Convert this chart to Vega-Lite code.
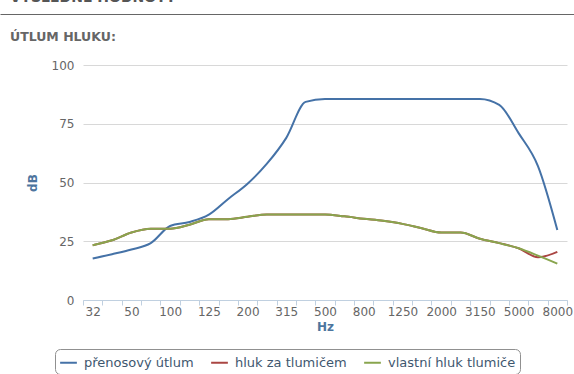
{
  "$schema": "https://vega.github.io/schema/vega-lite/v6.json",
  "width": 484,
  "height": 235,
  "autosize": {"type": "none"},
  "padding": {"left": 83, "top": 65, "right": 7, "bottom": 74},
  "background": "white",
  "title": {
    "text": "VÝSLEDNÉ HODNOTY",
    "subtitle": "ÚTLUM HLUKU:",
    "anchor": "start",
    "frame": "group",
    "dx": -73,
    "offset": -29,
    "font": "DejaVu Sans",
    "fontSize": 14,
    "fontWeight": "bold",
    "color": "#555555",
    "subtitleFont": "DejaVu Sans",
    "subtitleFontSize": 12.5,
    "subtitleFontWeight": "bold",
    "subtitleColor": "#666666",
    "subtitlePadding": 26
  },
  "config": {"view": {"stroke": null}, "font": "DejaVu Sans"},
  "data": {
    "values": [
      {"f": "32", "s": "přenosový útlum", "v": 17.7},
      {"f": "40", "s": "přenosový útlum", "v": 19.5},
      {"f": "50", "s": "přenosový útlum", "v": 21.5},
      {"f": "63", "s": "přenosový útlum", "v": 24.2},
      {"f": "100", "s": "přenosový útlum", "v": 31.5},
      {"f": "110", "s": "přenosový útlum", "v": 33.2},
      {"f": "125", "s": "přenosový útlum", "v": 36.3},
      {"f": "160", "s": "přenosový útlum", "v": 43.0},
      {"f": "200", "s": "přenosový útlum", "v": 49.5},
      {"f": "250", "s": "přenosový útlum", "v": 58.0},
      {"f": "315", "s": "přenosový útlum", "v": 69.0},
      {"f": "400", "s": "přenosový útlum", "v": 84.3},
      {"f": "500", "s": "přenosový útlum", "v": 85.5},
      {"f": "630", "s": "přenosový útlum", "v": 85.5},
      {"f": "800", "s": "přenosový útlum", "v": 85.5},
      {"f": "1000", "s": "přenosový útlum", "v": 85.5},
      {"f": "1250", "s": "přenosový útlum", "v": 85.5},
      {"f": "1600", "s": "přenosový útlum", "v": 85.5},
      {"f": "2000", "s": "přenosový útlum", "v": 85.5},
      {"f": "2500", "s": "přenosový útlum", "v": 85.5},
      {"f": "3150", "s": "přenosový útlum", "v": 85.5},
      {"f": "4000", "s": "přenosový útlum", "v": 83.0},
      {"f": "5000", "s": "přenosový útlum", "v": 71.0},
      {"f": "6300", "s": "přenosový útlum", "v": 57.0},
      {"f": "8000", "s": "přenosový útlum", "v": 29.8},
      {"f": "32", "s": "hluk za tlumičem", "v": 23.3},
      {"f": "40", "s": "hluk za tlumičem", "v": 25.4},
      {"f": "50", "s": "hluk za tlumičem", "v": 28.7},
      {"f": "63", "s": "hluk za tlumičem", "v": 30.3},
      {"f": "100", "s": "hluk za tlumičem", "v": 30.3},
      {"f": "110", "s": "hluk za tlumičem", "v": 32.0},
      {"f": "125", "s": "hluk za tlumičem", "v": 34.4},
      {"f": "160", "s": "hluk za tlumičem", "v": 34.4},
      {"f": "200", "s": "hluk za tlumičem", "v": 35.4},
      {"f": "250", "s": "hluk za tlumičem", "v": 36.4},
      {"f": "315", "s": "hluk za tlumičem", "v": 36.4},
      {"f": "400", "s": "hluk za tlumičem", "v": 36.4},
      {"f": "500", "s": "hluk za tlumičem", "v": 36.4},
      {"f": "630", "s": "hluk za tlumičem", "v": 35.6},
      {"f": "800", "s": "hluk za tlumičem", "v": 34.6},
      {"f": "1000", "s": "hluk za tlumičem", "v": 33.7},
      {"f": "1250", "s": "hluk za tlumičem", "v": 32.4},
      {"f": "1600", "s": "hluk za tlumičem", "v": 30.5},
      {"f": "2000", "s": "hluk za tlumičem", "v": 28.7},
      {"f": "2500", "s": "hluk za tlumičem", "v": 28.7},
      {"f": "3150", "s": "hluk za tlumičem", "v": 26.1},
      {"f": "4000", "s": "hluk za tlumičem", "v": 24.2},
      {"f": "5000", "s": "hluk za tlumičem", "v": 22.0},
      {"f": "6300", "s": "hluk za tlumičem", "v": 18.2},
      {"f": "8000", "s": "hluk za tlumičem", "v": 20.5},
      {"f": "32", "s": "vlastní hluk tlumiče", "v": 23.3},
      {"f": "40", "s": "vlastní hluk tlumiče", "v": 25.4},
      {"f": "50", "s": "vlastní hluk tlumiče", "v": 28.7},
      {"f": "63", "s": "vlastní hluk tlumiče", "v": 30.3},
      {"f": "100", "s": "vlastní hluk tlumiče", "v": 30.3},
      {"f": "110", "s": "vlastní hluk tlumiče", "v": 32.0},
      {"f": "125", "s": "vlastní hluk tlumiče", "v": 34.4},
      {"f": "160", "s": "vlastní hluk tlumiče", "v": 34.4},
      {"f": "200", "s": "vlastní hluk tlumiče", "v": 35.4},
      {"f": "250", "s": "vlastní hluk tlumiče", "v": 36.4},
      {"f": "315", "s": "vlastní hluk tlumiče", "v": 36.4},
      {"f": "400", "s": "vlastní hluk tlumiče", "v": 36.4},
      {"f": "500", "s": "vlastní hluk tlumiče", "v": 36.4},
      {"f": "630", "s": "vlastní hluk tlumiče", "v": 35.6},
      {"f": "800", "s": "vlastní hluk tlumiče", "v": 34.6},
      {"f": "1000", "s": "vlastní hluk tlumiče", "v": 33.7},
      {"f": "1250", "s": "vlastní hluk tlumiče", "v": 32.4},
      {"f": "1600", "s": "vlastní hluk tlumiče", "v": 30.5},
      {"f": "2000", "s": "vlastní hluk tlumiče", "v": 28.7},
      {"f": "2500", "s": "vlastní hluk tlumiče", "v": 28.7},
      {"f": "3150", "s": "vlastní hluk tlumiče", "v": 26.1},
      {"f": "4000", "s": "vlastní hluk tlumiče", "v": 24.2},
      {"f": "5000", "s": "vlastní hluk tlumiče", "v": 22.0},
      {"f": "6300", "s": "vlastní hluk tlumiče", "v": 18.9},
      {"f": "8000", "s": "vlastní hluk tlumiče", "v": 15.5}
    ]
  },
  "layer": [
    {
      "mark": {"type": "line", "interpolate": "monotone", "strokeWidth": 2},
      "encoding": {
        "x": {
          "field": "f",
          "type": "ordinal",
          "sort": null,
          "bandPosition": 0.5,
          "scale": {"type": "band", "paddingInner": 0, "paddingOuter": 0},
          "axis": {
            "title": "Hz",
            "titleFont": "DejaVu Sans",
            "titleFontSize": 12,
            "titleFontWeight": "bold",
            "titleColor": "#4d759e",
            "titlePadding": 4,
            "labelAngle": 0,
            "labelColor": "#666666",
            "labelFontSize": 12,
            "labelPadding": 1,
            "labelOverlap": false,
            "labelExpr": "round(datum.index*24) % 2 == 0 ? datum.label : ''",
            "tickBand": "extent",
            "tickColor": "#C0D0E0",
            "tickSize": 5,
            "domainColor": "#C0D0E0",
            "grid": false
          }
        },
        "y": {
          "field": "v",
          "type": "quantitative",
          "scale": {"domain": [0, 100]},
          "axis": {
            "values": [0, 25, 50, 75, 100],
            "title": "dB",
            "titleFont": "DejaVu Sans",
            "titleFontSize": 12,
            "titleFontWeight": "bold",
            "titleColor": "#4d759e",
            "titlePadding": 12,
            "labelColor": "#666666",
            "labelFontSize": 12,
            "labelPadding": 9,
            "domain": false,
            "ticks": false,
            "gridColor": "#D8D8D8",
            "gridWidth": 1
          }
        },
        "color": {
          "field": "s",
          "type": "nominal",
          "sort": ["přenosový útlum", "hluk za tlumičem", "vlastní hluk tlumiče"],
          "scale": {"range": ["#4572A7", "#AA4643", "#89A54E"]},
          "legend": {
            "orient": "none",
            "legendX": -28,
            "legendY": 284,
            "direction": "horizontal",
            "title": null,
            "strokeColor": "#909090",
            "cornerRadius": 5,
            "padding": 4,
            "symbolType": "stroke",
            "symbolStrokeWidth": 2,
            "symbolSize": 280,
            "labelFontSize": 13,
            "labelColor": "#3E576F",
            "labelOffset": 6,
            "columnPadding": 13
          }
        }
      }
    },
    {
      "mark": {"type": "line", "opacity": 0},
      "encoding": {
        "x": {
          "field": "v",
          "type": "quantitative",
          "scale": {"range": [-83, 491], "nice": false, "zero": false},
          "axis": {
            "orient": "top",
            "offset": 51,
            "title": null,
            "labels": false,
            "ticks": false,
            "grid": false,
            "domainColor": "#666666",
            "domainWidth": 1
          }
        },
        "y": {"field": "v", "type": "quantitative"}
      }
    }
  ],
  "resolve": {"axis": {"x": "independent"}, "scale": {"x": "independent"}}
}
